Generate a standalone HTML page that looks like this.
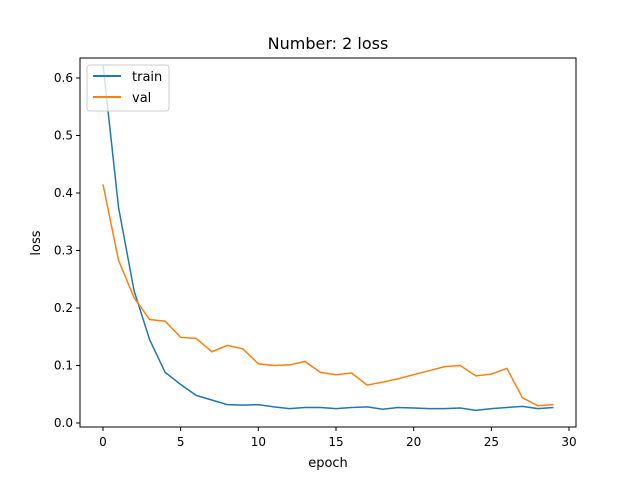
<!DOCTYPE html>
<html><head><meta charset="utf-8"><style>
body{margin:0;background:#fff;}
svg{display:block;font-family:"DejaVu Sans","Liberation Sans",sans-serif;}
</style></head><body>
<svg id="chart" width="640" height="480" viewBox="0 0 640 480">
<rect width="640" height="480" fill="#fff"/>
<text x="328" y="49" font-size="16" text-anchor="middle">Number: 2 loss</text>
<g id="plot"></g>
<rect x="80" y="58" width="496" height="369" fill="none" stroke="#000" stroke-width="1"/>
<text x="328" y="467" font-size="13" text-anchor="middle">epoch</text>
<text x="40" y="243" font-size="13" text-anchor="middle" transform="rotate(-90 40 243)">loss</text>
<g>
<rect x="87" y="65" width="82" height="46" rx="3" fill="#fff" fill-opacity="0.8" stroke="#ccc"/>
<line x1="93" y1="76" x2="121" y2="76" stroke="#1f77b4" stroke-width="2"/>
<text x="132" y="81" font-size="13">train</text>
<line x1="93" y1="97" x2="121" y2="97" stroke="#ff7f0e" stroke-width="2"/>
<text x="132" y="102" font-size="13">val</text>
</g>
</svg>
<script>
const epochs=[0,1,2,3,4,5,6,7,8,9,10,11,12,13,14,15,16,17,18,19,20,21,22,23,24,25,26,27,28,29];
const trainLoss=[0.623,0.375,0.23,0.145,0.088,0.067,0.048,0.040,0.032,0.031,0.032,0.028,0.025,0.027,0.027,0.025,0.027,0.028,0.024,0.027,0.026,0.025,0.025,0.026,0.022,0.025,0.027,0.029,0.025,0.027];
const valLoss=[0.415,0.283,0.218,0.18,0.177,0.149,0.147,0.124,0.135,0.129,0.103,0.100,0.101,0.107,0.088,0.084,0.087,0.066,0.071,0.077,0.084,0.091,0.098,0.100,0.082,0.085,0.095,0.044,0.030,0.032];
const xTicks=[0,5,10,15,20,25,30];
const yTicks=[0.0,0.1,0.2,0.3,0.4,0.5,0.6];
const NS="http://www.w3.org/2000/svg";
const sx=v=>103+v*(569-103)/30;
const sy=v=>423-v*575;
const g=document.getElementById('plot');
function mk(t,a){const e=document.createElementNS(NS,t);for(const k in a)e.setAttribute(k,a[k]);g.appendChild(e);return e;}
xTicks.forEach(t=>{
  const l=mk('line',{x1:sx(t),x2:sx(t),y1:427,y2:431,stroke:'#000'});
  
  
  const tx=mk('text',{x:sx(t),y:446,'font-size':12,'text-anchor':'middle'});
  tx.textContent=t;
  
  
});
yTicks.forEach(t=>{
  const l=mk('line',{x1:76,x2:80,y1:sy(t),y2:sy(t),stroke:'#000'});
  
  
  const tx=mk('text',{x:73,y:sy(t)+4,'font-size':12,'text-anchor':'end'});
  tx.textContent=t.toFixed(1);
  
  
});
function line(data,color,name){
  const p=mk('polyline',{points:data.map((v,i)=>sx(epochs[i])+','+sy(v)).join(' '),fill:'none',stroke:color,'stroke-width':1.5});
  
  
}
line(trainLoss,'#1f77b4','train-line');
line(valLoss,'#ff7f0e','val-line');
</script>
</body></html>
